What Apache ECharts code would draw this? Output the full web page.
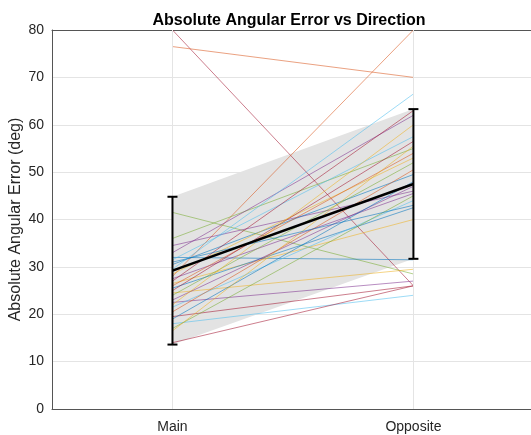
<!DOCTYPE html>
<html>
<head>
<meta charset="utf-8">
<script src="https://cdn.jsdelivr.net/npm/echarts@6/dist/echarts.min.js"></script>
<style>
  html, body { margin: 0; padding: 0; background: #fff; }
  #chart { width: 531px; height: 435px; }
</style>
</head>
<body>
<div id="chart"></div>
<script>
// Conditions on the x axis (positions 1 and 2)
const categories = ['Main', 'Opposite'];

// Per-subject absolute angular error (deg) for each condition
const mainErr = [80, 76.5, 28, 41.5, 36, 34.5, 33, 32, 31.5, 30.5, 29.5, 28.5, 27.5, 27, 26.5, 26,
                 25.5, 25, 24.5, 24, 23, 22.5, 22, 21.5, 20.5, 19.5, 19, 18, 17, 16.5, 14, 31];
const oppositeErr = [26, 70, 80, 28.5, 55, 46, 62, 31.5, 57.5, 49.5, 66.5, 53, 45.5, 63, 40, 54,
                     42.5, 56.5, 29.5, 52, 47, 27, 60, 44, 50.5, 26, 48, 24, 45, 55.5, 26, 43];

// Group mean and standard deviation per condition
const meanVals = [29.2, 47.5];
const sdVals = [15.6, 15.8];

// y-axis ticks
const yTicks = [0, 10, 20, 30, 40, 50, 60, 70, 80];

// MATLAB default line color order
const palette = ['#0072BD', '#D95319', '#EDB120', '#7E2F8E', '#77AC30', '#4DBEEE', '#A2142F'];
const subjectColors = [6, 1, 1, 4, 4, 3, 3, 0, 5, 0, 5, 2, 3, 6, 2, 1,
                       0, 6, 2, 4, 3, 3, 2, 5, 1, 6, 0, 5, 4, 2, 6, 0];

const xPos = categories.map((c, i) => i + 1);
const FONT = 'Liberation Sans';

const series = [];

// shaded mean ± SD band
series.push({
  type: 'custom',
  silent: true,
  z: 1,
  data: [0],
  renderItem: function (params, api) {
    const pts = [
      api.coord([xPos[0], meanVals[0] - sdVals[0]]),
      api.coord([xPos[1], meanVals[1] - sdVals[1]]),
      api.coord([xPos[1], meanVals[1] + sdVals[1]]),
      api.coord([xPos[0], meanVals[0] + sdVals[0]])
    ];
    return { type: 'polygon', shape: { points: pts }, style: { fill: '#e3e3e3' } };
  }
});

// vertical grid lines at each condition
series.push({
  type: 'line',
  data: [],
  silent: true,
  markLine: {
    silent: true,
    symbol: 'none',
    label: { show: false },
    lineStyle: { color: '#e4e4e4', width: 1, type: 'solid' },
    data: xPos.map(x => ({ xAxis: x }))
  },
  z: 0
});

// individual subjects
mainErr.forEach((m, i) => {
  series.push({
    type: 'line',
    silent: true,
    symbol: 'none',
    z: 2,
    data: [[xPos[0], m], [xPos[1], oppositeErr[i]]],
    lineStyle: { width: 1, color: palette[subjectColors[i]], opacity: 0.55 }
  });
});

// group mean line
series.push({
  type: 'line',
  silent: true,
  symbol: 'none',
  z: 4,
  data: xPos.map((x, i) => [x, meanVals[i]]),
  lineStyle: { width: 2.5, color: '#000' }
});

// SD error bars with caps
series.push({
  type: 'custom',
  silent: true,
  z: 5,
  data: xPos.map((x, i) => [x, meanVals[i] - sdVals[i], meanVals[i] + sdVals[i]]),
  renderItem: function (params, api) {
    const lo = api.coord([api.value(0), api.value(1)]);
    const hi = api.coord([api.value(0), api.value(2)]);
    const w = 5;
    const st = { stroke: '#000', lineWidth: 2 };
    return {
      type: 'group',
      children: [
        { type: 'line', shape: { x1: lo[0], y1: lo[1], x2: hi[0], y2: hi[1] }, style: st },
        { type: 'line', shape: { x1: lo[0] - w, y1: lo[1], x2: lo[0] + w, y2: lo[1] }, style: st },
        { type: 'line', shape: { x1: hi[0] - w, y1: hi[1], x2: hi[0] + w, y2: hi[1] }, style: st }
      ]
    };
  }
});

const chart = echarts.init(document.getElementById('chart'), null, { renderer: 'canvas' });
chart.setOption({
  animation: false,
  backgroundColor: '#fff',
  title: {
    text: 'Absolute Angular Error vs Direction',
    left: 284,
    top: 8,
    textAlign: 'center',
    textStyle: { fontFamily: FONT, fontSize: 16, fontWeight: 'bold', color: '#000' }
  },
  grid: { left: 52, top: 30, right: 0, bottom: 26, containLabel: false, outerBoundsMode: 'none' },
  xAxis: [{
    type: 'value',
    min: 0.5,
    max: 2.488,
    axisLine: { show: true, lineStyle: { color: '#555', width: 1 } },
    splitLine: { show: false },
    axisTick: { show: true, inside: true, length: 4, customValues: xPos, lineStyle: { color: '#555' } },
    axisLabel: {
      customValues: xPos,
      formatter: v => categories[Math.round(v) - 1] || '',
      margin: 11,
      fontFamily: FONT, fontSize: 14, color: '#262626'
    }
  }, {
    // top box edge
    type: 'value',
    position: 'top',
    min: 0.5,
    max: 2.488,
    axisLine: { show: true, lineStyle: { color: '#555', width: 1 } },
    axisTick: { show: false },
    axisLabel: { show: false },
    splitLine: { show: false }
  }],
  yAxis: {
    type: 'value',
    min: yTicks[0],
    max: yTicks[yTicks.length - 1],
    interval: 10,
    name: 'Absolute Angular Error (deg)',
    nameLocation: 'middle',
    nameGap: 28,
    nameMoveOverlap: false,
    nameTextStyle: { fontFamily: FONT, fontSize: 16, color: '#262626' },
    axisLine: { show: true, lineStyle: { color: '#555', width: 1 } },
    axisTick: { show: false },
    splitLine: { show: true, lineStyle: { color: '#e4e4e4', width: 1 } },
    axisLabel: { margin: 8, fontFamily: FONT, fontSize: 14, color: '#262626' }
  },
  series: series
});
</script>
</body>
</html>
